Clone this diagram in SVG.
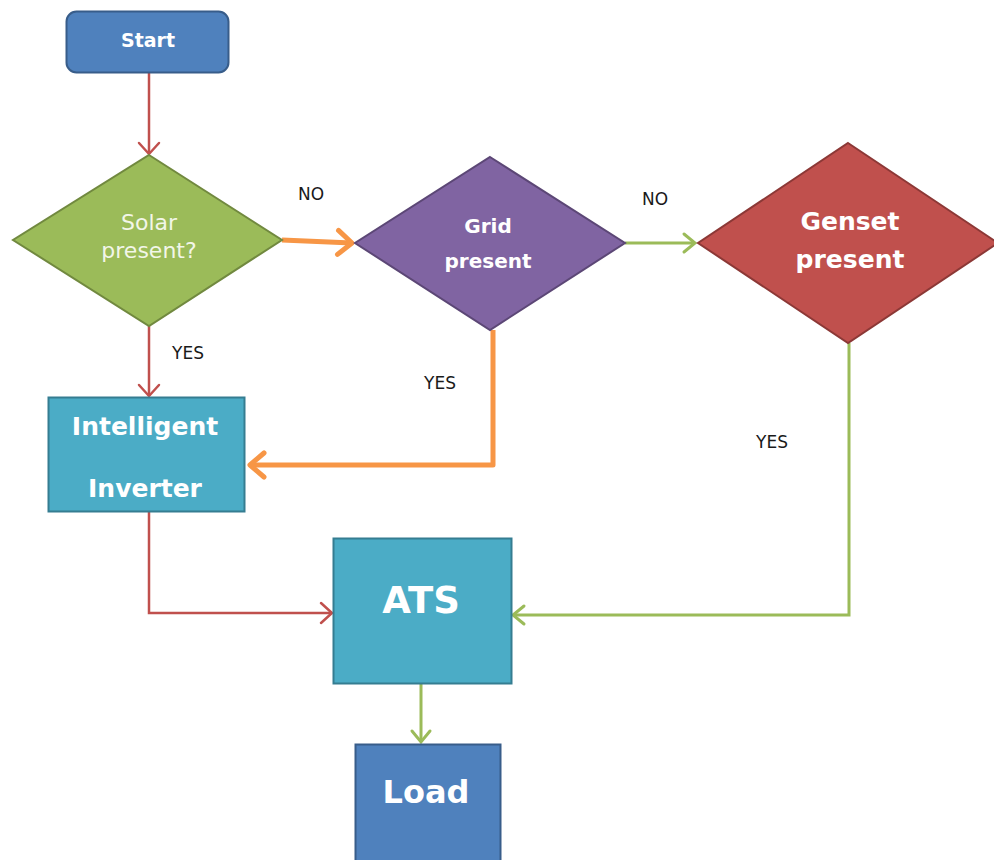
<svg xmlns="http://www.w3.org/2000/svg" width="994" height="860" viewBox="0 0 994 860">
<style>
.lbl{font-family:"DejaVu Sans","Liberation Sans",sans-serif;font-size:17px;fill:#1a1a1a;text-anchor:middle}
.nt{font-family:"DejaVu Sans","Liberation Sans",sans-serif;fill:#ffffff;text-anchor:middle;font-weight:bold}
.red{fill:none;stroke:#c0504d;stroke-width:2.5}
.org{fill:none;stroke:#f79646;stroke-width:5}
.grn{fill:none;stroke:#9bbb59;stroke-width:3}
</style>
<defs>
<marker id="ar" markerUnits="userSpaceOnUse" markerWidth="30" markerHeight="30" refX="0" refY="0" orient="auto" overflow="visible"><path d="M-11,-10 L0,0 L-11,10" fill="none" stroke="#c0504d" stroke-width="2.5" stroke-linecap="round"/></marker>
<marker id="ao" markerUnits="userSpaceOnUse" markerWidth="30" markerHeight="30" refX="0" refY="0" orient="auto" overflow="visible"><path d="M-14,-12 L0,0 L-14,12" fill="none" stroke="#f79646" stroke-width="5" stroke-linecap="round" stroke-linejoin="round"/></marker>
<marker id="ag" markerUnits="userSpaceOnUse" markerWidth="30" markerHeight="30" refX="0" refY="0" orient="auto" overflow="visible"><path d="M-11,-9 L0,0 L-11,9" fill="none" stroke="#9bbb59" stroke-width="3" stroke-linecap="round"/></marker>
</defs>
<rect width="994" height="860" fill="#ffffff"/>
<g id="connectors">
<path class="red" d="M149,73 V154" marker-end="url(#ar)"/>
<path class="red" d="M149,326 V396" marker-end="url(#ar)"/>
<path class="red" d="M149,512 V613 H332" marker-end="url(#ar)"/>
<path class="org" d="M282,240 L352,243" marker-end="url(#ao)"/>
<path class="org" d="M493,330 V465 H250" marker-end="url(#ao)" stroke-linejoin="round"/>
<path class="grn" d="M625,243 H695" marker-end="url(#ag)"/>
<path class="grn" d="M849,343 V615 H513" marker-end="url(#ag)"/>
<path class="grn" d="M421,682 V742" marker-end="url(#ag)"/>
<text class="lbl" x="311" y="200">NO</text>
<text class="lbl" x="655" y="205">NO</text>
<text class="lbl" x="188" y="359">YES</text>
<text class="lbl" x="440" y="389">YES</text>
<text class="lbl" x="772" y="448">YES</text>
</g>
<g id="start">
<rect x="66.5" y="11.5" width="162" height="61" rx="10" fill="#4f81bd" stroke="#385d8a" stroke-width="2"/>
<text class="nt" x="148" y="47" font-size="19">Start</text>
</g>
<g id="solar">
<path d="M149,155 L282,240 L149,326 L13,240 Z" fill="#9bbb59" stroke="#71893f" stroke-width="2"/>
<text x="149" y="230" font-family="DejaVu Sans, Liberation Sans, sans-serif" font-size="22" fill="#f2f6e8" text-anchor="middle">Solar</text>
<text x="149" y="258" font-family="DejaVu Sans, Liberation Sans, sans-serif" font-size="22" fill="#f2f6e8" text-anchor="middle">present?</text>
</g>
<g id="grid">
<path d="M490,157 L625,243 L490,330 L355,243 Z" fill="#8064a2" stroke="#5c4776" stroke-width="2"/>
<text class="nt" x="488" y="233" font-size="20" fill="#f4f0f8">Grid</text>
<text class="nt" x="488" y="268" font-size="20" fill="#f4f0f8">present</text>
</g>
<g id="genset">
<path d="M848,143 L998,243 L848,343 L698,243 Z" fill="#c0504d" stroke="#8c3836" stroke-width="2"/>
<text class="nt" x="850" y="230" font-size="25">Genset</text>
<text class="nt" x="850" y="268" font-size="25">present</text>
</g>
<g id="inverter">
<rect x="48.5" y="397.5" width="196" height="114" fill="#4bacc6" stroke="#357d91" stroke-width="2"/>
<text class="nt" x="145" y="435" font-size="25">Intelligent</text>
<text class="nt" x="145" y="497" font-size="25">Inverter</text>
</g>
<g id="ats">
<rect x="333.5" y="538.5" width="178" height="145" fill="#4bacc6" stroke="#357d91" stroke-width="2"/>
<text class="nt" x="421" y="613" font-size="37">ATS</text>
</g>
<g id="load">
<rect x="355.5" y="744.5" width="145" height="120" fill="#4f81bd" stroke="#385d8a" stroke-width="2"/>
<text class="nt" x="426" y="803" font-size="32">Load</text>
</g>
</svg>
